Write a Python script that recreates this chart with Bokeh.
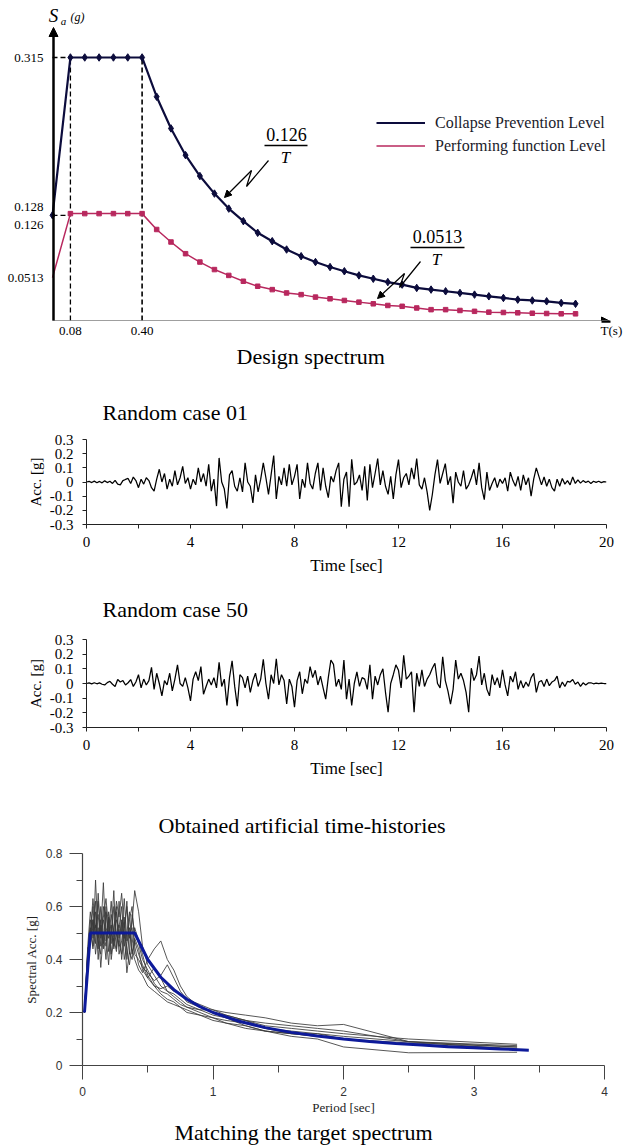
from bokeh.plotting import figure
from bokeh.layouts import column, row
from bokeh.models import (Range1d, FixedTicker, NumeralTickFormatter, Label, Arrow,
                          NormalHead, Legend, LegendItem, Title)
from bokeh.embed import file_html
from bokeh.resources import INLINE

# ---------------- data ----------------
# Design spectrum
ds_T = [0.0, 0.08, 0.144, 0.208, 0.272, 0.336, 0.40, 0.465, 0.529, 0.594, 0.658, 0.723,
        0.787, 0.852, 0.916, 0.981, 1.045, 1.110, 1.174, 1.239, 1.303, 1.368, 1.432,
        1.497, 1.561, 1.626, 1.690, 1.755, 1.819, 1.884, 1.948, 2.013, 2.077, 2.142,
        2.206, 2.271, 2.335]
collapse_Sa = [0.126, 0.315, 0.315, 0.315, 0.315, 0.315, 0.315, 0.268, 0.230, 0.198,
               0.173, 0.152, 0.134, 0.119, 0.105, 0.095, 0.085, 0.077, 0.070, 0.064,
               0.059, 0.054, 0.050, 0.046, 0.043, 0.039, 0.037, 0.035, 0.033, 0.031,
               0.029, 0.027, 0.025, 0.024, 0.023, 0.021, 0.020]
perform_Sa = [0.0513, 0.128, 0.128, 0.128, 0.128, 0.128, 0.128, 0.109, 0.094, 0.080,
              0.070, 0.061, 0.054, 0.047, 0.041, 0.037, 0.033, 0.031, 0.028, 0.026,
              0.024, 0.022, 0.020, 0.018, 0.017, 0.015, 0.013, 0.013, 0.012, 0.011,
              0.010, 0.0096, 0.0092, 0.0087, 0.0084, 0.0080, 0.0080]
ds_xticks = [0.08, 0.40, 2.495]
ds_xlabels = ["0.08", "0.40", "T(s)"]
ds_yticks = [0.0513, 0.126, 0.315]
ds_ylabels = ["0.0513", "0.128\n0.126", "0.315"]

# Artificial time histories, sampled every 0.1 s
acc_case01 = [
    0.0, 0.005, -0.004, 0.006, -0.005, 0.004, -0.006, 0.008, -0.004, 0.005,
    -0.01, 0.012, -0.015, -0.02, 0.01, 0.018, 0.025, -0.01, 0.035, 0.01,
    -0.04, 0.02, -0.015, 0.03, 0.01, -0.04, -0.065, 0.02, 0.09, 0.0,
    0.06, -0.05, 0.02, -0.03, 0.08, -0.02, 0.03, 0.11, -0.01, 0.03,
    -0.05, 0.02, -0.02, 0.1, 0.0, 0.06, -0.03, 0.125, -0.065, 0.02,
    -0.17, 0.17, 0.0, -0.05, -0.187, 0.05, 0.08, -0.03, -0.065, 0.03,
    -0.07, 0.135, 0.0, -0.03, -0.147, 0.05, -0.07, 0.02, 0.135, 0.03,
    -0.087, 0.05, 0.187, -0.12, 0.04, -0.02, 0.1, -0.03, 0.125, -0.02,
    0.04, 0.125, -0.12, 0.02, -0.04, 0.135, -0.01, -0.05, 0.06, 0.135,
    -0.06, 0.1, -0.03, -0.11, 0.04, 0.0, 0.08, 0.135, -0.175, 0.02,
    0.07, -0.175, 0.16, -0.02, 0.0, 0.05, -0.06, 0.11, -0.13, 0.125,
    -0.04, 0.06, 0.165, -0.02, 0.08, -0.03, -0.087, 0.04, -0.12, 0.05,
    0.158, -0.04, 0.03, 0.06, -0.02, 0.1, 0.02, 0.165, -0.02, -0.05,
    0.03, -0.07, -0.2, -0.09, 0.05, 0.158, -0.01, 0.06, 0.13, -0.02,
    0.04, -0.15, 0.07, 0.0, -0.03, 0.08, -0.05, -0.02, 0.03, 0.09,
    -0.02, 0.135, -0.04, -0.125, 0.07, -0.06, -0.01, 0.03, -0.04, 0.02,
    -0.01, 0.03, -0.065, 0.07, 0.01, -0.03, 0.04, -0.06, 0.05, -0.02,
    0.03, -0.1, 0.02, 0.1, 0.04, -0.02, 0.035, -0.03, 0.02, -0.04,
    -0.065, 0.02, -0.03, 0.025, -0.015, 0.01, -0.02, 0.035, -0.01, 0.015,
    -0.008, 0.01, -0.004, 0.006, -0.01, 0.005, -0.003, 0.005, -0.004, 0.003,
    0.0]
acc_case50 = [
    0.0, 0.004, -0.003, 0.005, -0.002, 0.004, -0.005, -0.01, 0.006, 0.015,
    -0.005, -0.02, 0.027, 0.01, 0.02, -0.01, 0.005, 0.027, -0.02, 0.01,
    0.06, -0.03, 0.03, -0.01, 0.02, 0.11, -0.04, 0.07, 0.0, -0.085,
    0.02, -0.01, 0.07, -0.05, 0.03, 0.127, 0.0, -0.02, 0.04, -0.03,
    -0.118, 0.03, 0.08, 0.02, 0.115, -0.073, -0.02, 0.03, -0.01, 0.04,
    -0.03, 0.144, -0.02, 0.03, -0.15, 0.04, 0.155, -0.02, -0.155, 0.06,
    0.04, -0.03, 0.05, -0.06, 0.02, 0.07, -0.02, 0.03, 0.165, 0.0,
    -0.107, 0.06, 0.0, 0.169, -0.01, 0.06, 0.02, -0.14, 0.03, -0.02,
    -0.162, 0.02, 0.08, -0.07, 0.03, 0.0, 0.115, 0.04, 0.09, -0.01,
    0.05, -0.03, -0.107, 0.04, 0.16, 0.13, -0.02, 0.03, -0.04, 0.16,
    -0.107, 0.03, -0.15, 0.0, 0.08, -0.02, 0.04, 0.03, -0.04, 0.127,
    -0.107, 0.05, -0.01, 0.06, 0.1, -0.06, -0.196, 0.0, 0.06, 0.127,
    0.09, -0.03, 0.193, 0.03, 0.05, 0.08, -0.196, 0.07, -0.02, 0.093,
    -0.02, 0.03, 0.06, 0.104, 0.138, 0.0, -0.03, 0.182, 0.02, -0.05,
    -0.14, -0.04, 0.16, 0.03, 0.07, 0.02, -0.06, -0.196, 0.104, 0.02,
    0.06, 0.187, -0.01, 0.07, -0.04, -0.084, 0.06, -0.01, 0.04, -0.03,
    0.093, -0.01, -0.084, 0.05, 0.01, 0.08, -0.04, 0.02, -0.03, 0.01,
    -0.02, 0.04, 0.07, -0.06, 0.01, 0.02, -0.02, 0.03, -0.015, 0.01,
    0.02, 0.05, -0.03, 0.01, -0.02, 0.015, 0.01, 0.027, -0.005, 0.01,
    -0.02, 0.005, -0.01, 0.004, 0.005, -0.002, 0.003, -0.001, 0.002, 0.0,
    0.0]
th_dt = 0.1
th_xticks = [0, 4, 8, 12, 16, 20]
th_xminor = [2, 6, 10, 14, 18]
th_yticks = [-0.3, -0.2, -0.1, 0, 0.1, 0.2, 0.3]

# Spectra of the artificial records vs. target
sp_T = [0.015, 0.04, 0.06, 0.08, 0.10, 0.12, 0.14, 0.16, 0.18, 0.20,
        0.22, 0.24, 0.26, 0.28, 0.30, 0.32, 0.34, 0.36, 0.38, 0.40,
        0.43, 0.46, 0.50, 0.55, 0.60, 0.65, 0.70, 0.75, 0.80, 0.90,
        1.00, 1.10, 1.25, 1.40, 1.60, 1.80, 2.00, 2.50, 3.33]
sp_c1 = [0.2, 0.42, 0.52, 0.45, 0.70, 0.48, 0.55, 0.44, 0.58, 0.50, 0.62, 0.47, 0.55, 0.52, 0.60, 0.45, 0.50, 0.58, 0.44, 0.40,
         0.36, 0.34, 0.30, 0.28, 0.26, 0.24, 0.23, 0.22, 0.21, 0.19, 0.17, 0.16, 0.15, 0.13, 0.12, 0.11, 0.10, 0.085, 0.07]
sp_c2 = [0.2, 0.40, 0.48, 0.60, 0.46, 0.65, 0.50, 0.69, 0.47, 0.56, 0.42, 0.52, 0.60, 0.48, 0.54, 0.40, 0.46, 0.52, 0.42, 0.47,
         0.42, 0.38, 0.33, 0.30, 0.27, 0.25, 0.24, 0.22, 0.20, 0.19, 0.18, 0.17, 0.16, 0.14, 0.12, 0.11, 0.10, 0.08, 0.065]
sp_c3 = [0.2, 0.45, 0.58, 0.50, 0.62, 0.44, 0.60, 0.50, 0.40, 0.58, 0.50, 0.66, 0.44, 0.62, 0.50, 0.63, 0.47, 0.55, 0.60, 0.45,
         0.38, 0.35, 0.40, 0.44, 0.47, 0.40, 0.36, 0.30, 0.26, 0.22, 0.20, 0.19, 0.17, 0.14, 0.13, 0.12, 0.11, 0.09, 0.075]
sp_c4 = [0.2, 0.38, 0.46, 0.55, 0.42, 0.52, 0.37, 0.50, 0.45, 0.55, 0.40, 0.48, 0.43, 0.53, 0.40, 0.50, 0.35, 0.43, 0.40, 0.48,
         0.44, 0.36, 0.33, 0.37, 0.33, 0.28, 0.26, 0.24, 0.22, 0.20, 0.18, 0.16, 0.14, 0.13, 0.12, 0.12, 0.10, 0.08, 0.06]
sp_c5 = [0.2, 0.43, 0.50, 0.63, 0.52, 0.57, 0.45, 0.60, 0.52, 0.48, 0.57, 0.50, 0.62, 0.56, 0.65, 0.52, 0.60, 0.48, 0.54, 0.66,
         0.58, 0.45, 0.38, 0.34, 0.30, 0.28, 0.27, 0.25, 0.23, 0.21, 0.21, 0.19, 0.17, 0.15, 0.14, 0.13, 0.12, 0.10, 0.08]
sp_c6 = [0.2, 0.41, 0.55, 0.48, 0.58, 0.40, 0.53, 0.46, 0.60, 0.43, 0.50, 0.45, 0.58, 0.42, 0.47, 0.56, 0.40, 0.50, 0.52, 0.42,
         0.40, 0.37, 0.35, 0.32, 0.34, 0.38, 0.33, 0.28, 0.25, 0.23, 0.21, 0.20, 0.19, 0.18, 0.16, 0.15, 0.155, 0.09, 0.06]
sp_c7 = [0.2, 0.44, 0.47, 0.55, 0.50, 0.62, 0.48, 0.56, 0.63, 0.52, 0.46, 0.60, 0.50, 0.45, 0.55, 0.48, 0.62, 0.42, 0.57, 0.50,
         0.46, 0.40, 0.36, 0.31, 0.28, 0.27, 0.25, 0.23, 0.22, 0.21, 0.19, 0.18, 0.17, 0.16, 0.15, 0.14, 0.13, 0.09, 0.07]
sp_c8 = [0.2, 0.39, 0.51, 0.44, 0.53, 0.47, 0.42, 0.55, 0.50, 0.38, 0.53, 0.44, 0.50, 0.46, 0.42, 0.54, 0.44, 0.38, 0.46, 0.52,
         0.47, 0.42, 0.34, 0.30, 0.29, 0.30, 0.28, 0.27, 0.24, 0.22, 0.20, 0.18, 0.15, 0.13, 0.11, 0.10, 0.07, 0.048, 0.05]
target_T = [0.015, 0.06, 0.40, 0.5, 0.6, 0.7, 0.8, 0.9, 1.0, 1.2, 1.4, 1.6, 1.8, 2.0, 2.2, 2.4,
            2.6, 2.8, 3.0, 3.2, 3.42]
target_Sa = [0.2, 0.5, 0.5, 0.4, 0.333, 0.286, 0.25, 0.222, 0.2, 0.167, 0.143, 0.125, 0.111,
             0.1, 0.091, 0.083, 0.077, 0.071, 0.067, 0.0625, 0.058]
sp_xticks = [0, 1, 2, 3, 4]
sp_xminor = [0.5, 1.5, 2.5, 3.5]
sp_yticks = [0, 0.2, 0.4, 0.6, 0.8]
sp_yminor = [0.1, 0.3, 0.5, 0.7]

# ---------------- styling helpers ----------------
SERIF = "Liberation Serif"
SANS = "Liberation Sans"
W = 627
NAVY = "#0c0c3c"
CRIMSON = "#b8285e"
CAP = "22px"


def base_fig(h, xr, yr, left, right, top, bottom):
    p = figure(width=W, height=h, x_range=Range1d(*xr), y_range=Range1d(*yr),
               output_backend="svg", toolbar_location=None,
               min_border_left=left, min_border_right=right,
               min_border_top=top, min_border_bottom=bottom)
    p.outline_line_color = None
    p.grid.visible = False
    p.background_fill_color = "white"
    p.border_fill_color = "white"
    return p


def lab(p, x, y, text, size, font=SERIF, style="normal", align="center",
        baseline="middle", angle=0, color="black"):
    p.add_layout(Label(x=x, y=y, text=text, text_font=font,
                       text_font_size=f"{size}px", text_font_style=style,
                       text_align=align, text_baseline=baseline, angle=angle,
                       text_color=color))


def style_title(t, text, offset, standoff, valign="bottom"):
    t.text = text
    t.align = "left"
    t.offset = offset
    t.standoff = standoff
    t.vertical_align = valign
    t.text_font = SERIF
    t.text_font_size = CAP
    t.text_font_style = "normal"
    t.text_color = "black"
    return t


# ---------------- Figure 1: design spectrum (page y 0..382) ----------------
def X1(px):
    return (px - 52) / 224.0


def Y1(py):
    return (320 - py) / 835.0


p1 = base_fig(382, (X1(46), X1(627)), (0, Y1(0)), 46, 0, 0, 62)
for ax in (p1.xaxis, p1.yaxis):
    ax.axis_line_color = None
    ax.major_tick_line_color = None
    ax.minor_tick_line_color = None
    ax.major_tick_out = 0
    ax.major_tick_in = 0
    ax.minor_tick_out = 0
    ax.minor_tick_in = 0
    ax.major_label_text_font = SERIF
    ax.major_label_text_font_size = "13px"
    ax.major_label_text_color = "black"
p1.xaxis.ticker = FixedTicker(ticks=ds_xticks)
p1.xaxis.major_label_overrides = dict(zip(ds_xticks, ds_xlabels))
p1.xaxis.major_label_standoff = 2
p1.yaxis.ticker = FixedTicker(ticks=ds_yticks)
p1.yaxis.major_label_overrides = dict(zip(ds_yticks, ds_ylabels))
p1.yaxis.major_label_standoff = 3
p1.add_layout(style_title(Title(), "Design spectrum", 236 - 46, 6, valign="top"), "below")

dash = dict(line_color="black", line_width=1.3, line_dash="5 3")
p1.line([ds_T[1], ds_T[1]], [0, collapse_Sa[1]], **dash)
p1.line([ds_T[6], ds_T[6]], [0, collapse_Sa[6]], line_color="black", line_width=1.6, line_dash="5 3")
p1.line([0, ds_T[1]], [collapse_Sa[1], collapse_Sa[1]], **dash)
p1.line([0, ds_T[1]], [collapse_Sa[0], collapse_Sa[0]], **dash)

r_perf = p1.line(ds_T, perform_Sa, line_color=CRIMSON, line_width=1.5)
p1.scatter(ds_T[1:], perform_Sa[1:], marker="square", size=4.5, color=CRIMSON)
r_coll = p1.line(ds_T, collapse_Sa, line_color=NAVY, line_width=2.2)
p1.scatter(ds_T, collapse_Sa, marker="diamond", size=7.5, color=NAVY)

# axes with arrow heads
p1.add_layout(Arrow(end=NormalHead(size=9, fill_color="black", line_color="black"),
                    x_start=X1(52), y_start=Y1(321), x_end=X1(610), y_end=Y1(321),
                    line_width=2.5, line_color="black"))
p1.add_layout(Arrow(end=NormalHead(size=9, fill_color="black", line_color="black"),
                    x_start=X1(53), y_start=Y1(321), x_end=X1(53), y_end=Y1(27),
                    line_width=2.5, line_color="black"))

lab(p1, X1(53), Y1(15), "S", 19, style="italic")
lab(p1, X1(63), Y1(20), "a", 11, style="italic")
lab(p1, X1(77), Y1(16), "(g)", 12, style="italic")

# formula annotations
lab(p1, X1(286), Y1(134), "0.126", 18)
p1.line([X1(264), X1(307)], [Y1(145), Y1(145)], line_color="black", line_width=1.3)
lab(p1, X1(285), Y1(157), "T", 17, style="italic")
lab(p1, X1(437), Y1(236), "0.0513", 18)
p1.line([X1(410), X1(464)], [Y1(247), Y1(247)], line_color="black", line_width=1.3)
lab(p1, X1(436), Y1(259), "T", 17, style="italic")

for path in ([(268, 160), (246, 186), (251, 170)], [(420, 261), (399, 287), (404, 273)]):
    p1.line([X1(a) for a, b in path], [Y1(b) for a, b in path], line_color="black", line_width=1.2)
p1.add_layout(Arrow(end=NormalHead(size=7, fill_color="black", line_color="black"),
                    x_start=X1(251), y_start=Y1(170), x_end=X1(224), y_end=Y1(197),
                    line_width=1.2, line_color="black"))
p1.add_layout(Arrow(end=NormalHead(size=7, fill_color="black", line_color="black"),
                    x_start=X1(404), y_start=Y1(273), x_end=X1(377), y_end=Y1(298),
                    line_width=1.2, line_color="black"))

legend = Legend(items=[LegendItem(label="Collapse Prevention Level", renderers=[r_coll]),
                       LegendItem(label="Performing function Level", renderers=[r_perf])],
                location=(376 - 46, 163), glyph_width=49, glyph_height=23, label_height=23,
                label_standoff=10, spacing=0, padding=0, margin=0,
                border_line_color=None, background_fill_alpha=0,
                label_text_font=SERIF, label_text_font_size="16px", label_text_color="#1a1a2a")
p1.add_layout(legend)


# ---------------- Figures 2/3: time histories ----------------
def th_fig(h, top, bottom, acc, title, title_standoff):
    p = base_fig(h, (0, 20), (-0.3, 0.3), 86, 21, top, bottom)
    t = [i * th_dt for i in range(len(acc))]
    p.line(t, acc, line_color="black", line_width=1.25)
    for ax in (p.xaxis, p.yaxis):
        ax.axis_line_color = "#222222"
        ax.major_tick_line_color = "#222222"
        ax.minor_tick_line_color = "#222222"
        ax.major_tick_in = 0
        ax.minor_tick_in = 0
        ax.major_tick_out = 4
        ax.minor_tick_out = 4
        ax.major_label_text_font = SERIF
        ax.major_label_text_color = "black"
        ax.axis_label_text_font = SERIF
        ax.axis_label_text_font_style = "normal"
        ax.axis_label_text_color = "black"
    p.xaxis.ticker = FixedTicker(ticks=th_xticks, minor_ticks=th_xminor)
    p.xaxis.major_label_text_font_size = "15px"
    p.xaxis.major_label_standoff = 8
    p.xaxis.axis_label = "Time [sec]"
    p.xaxis.axis_label_text_font_size = "17px"
    p.xaxis.axis_label_standoff = 6
    p.yaxis.ticker = FixedTicker(ticks=th_yticks)
    p.yaxis.formatter = NumeralTickFormatter(format="0.[0]")
    p.yaxis.major_label_text_font_size = "15px"
    p.yaxis.major_label_standoff = 9
    p.yaxis.axis_label = "Acc. [g]"
    p.yaxis.axis_label_text_font_size = "15px"
    p.yaxis.axis_label_standoff = 3
    style_title(p.title, title, 102 - 86, title_standoff)
    return p


# fig2: page y 382..577, frame 437..527
p2 = th_fig(195, 55, 50, acc_case01, "Random case 01", 30)
# fig3: page y 577..790, frame 637..727
p3 = th_fig(213, 60, 63, acc_case50, "Random case 50", 35)

# ---------------- Figure 4: spectral matching (page y 790..1145, frame 853..1065) ----------------
p4 = base_fig(355, (0, 4), (0, 0.8), 82, 23, 63, 80)
style_title(p4.title, "Obtained artificial time-histories", 158 - 82, 32)
for c in (sp_c1, sp_c2, sp_c3, sp_c4, sp_c5, sp_c6, sp_c7, sp_c8):
    p4.line(sp_T, c, line_color="#3a3a3a", line_width=1.0, line_alpha=0.85)
p4.line(target_T, target_Sa, line_color="#0d1a9a", line_width=3)
for ax in (p4.xaxis, p4.yaxis):
    ax.axis_line_color = "#444444"
    ax.axis_line_width = 1.2
    ax.major_tick_line_color = "#444444"
    ax.minor_tick_line_color = "#444444"
    ax.major_tick_in = 0
    ax.minor_tick_in = 0
    ax.major_label_text_font = SANS
    ax.major_label_text_font_size = "12px"
    ax.major_label_text_color = "#333333"
    ax.axis_label_text_font = SERIF
    ax.axis_label_text_font_style = "normal"
    ax.axis_label_text_font_size = "13px"
    ax.axis_label_text_color = "#222222"
p4.xaxis.ticker = FixedTicker(ticks=sp_xticks, minor_ticks=sp_xminor)
p4.xaxis.major_tick_out = 14
p4.xaxis.minor_tick_out = 7
p4.xaxis.major_label_standoff = 7
p4.xaxis.axis_label = "Period [sec]"
p4.xaxis.axis_label_standoff = 1
p4.yaxis.ticker = FixedTicker(ticks=sp_yticks, minor_ticks=sp_yminor)
p4.yaxis.formatter = NumeralTickFormatter(format="0.[0]")
p4.yaxis.major_tick_out = 13
p4.yaxis.minor_tick_out = 6
p4.yaxis.major_label_standoff = 7
p4.yaxis.axis_label = "Spectral Acc. [g]"
p4.yaxis.axis_label_standoff = 4
p4.add_layout(style_title(Title(), "Matching the target spectrum", 174 - 82, 0), "below")

layout = column(row(p1), row(p2), row(p3), row(p4), spacing=0)
open("out.html", "w").write(file_html(layout, INLINE))
